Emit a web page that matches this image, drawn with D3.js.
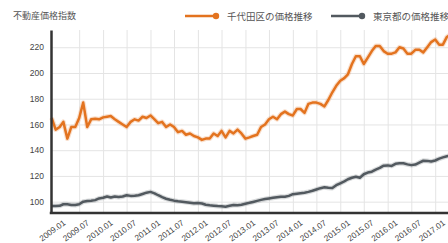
<!DOCTYPE html>
<html>
<head>
<meta charset="utf-8">
<script src="https://cdn.jsdelivr.net/npm/d3@7"></script>
<style>
  body { margin: 0; background: #fff; }
  svg { display: block; }
  text { font-family: "Liberation Sans", Arial, sans-serif; }
  .jp { font-family: "Noto Sans CJK JP", sans-serif; }
</style>
</head>
<body>
<div id="chart"></div>
<script>
// Data (monthly, starting 2008.12)
var firstMonth = "2008.12";
var chiyoda = [165, 156, 158, 162, 149, 158, 158, 165, 177, 158, 164, 164.5, 164, 165.5, 166, 166.5,
  164, 162, 160, 158, 162, 164, 163, 166, 165, 167, 164, 161, 162, 158, 160, 158, 154, 155, 152, 153,
  151, 150, 148, 149, 149, 153, 151, 155, 150, 155, 153, 156, 153, 149, 150, 151, 152, 158, 160, 164,
  166, 164, 168, 170, 168, 167, 172, 172, 169, 176, 177, 177, 176, 174, 179, 185, 190, 194, 196, 199,
  207, 213, 213, 207, 212, 217, 221, 221, 217, 215, 215, 216, 220, 219, 215, 215, 218, 218, 216, 220,
  224, 226, 222, 222, 228, 230];
var tokyo = [96.7, 96.7, 96.8, 98, 98, 97.5, 97.4, 98, 100, 100.5, 100.8, 101.2, 102.5, 103, 104, 103.3,
  104, 103.6, 104, 105, 104.5, 104.6, 105, 106, 107, 107.6, 106.5, 105, 103.5, 102.3, 101.5, 100.8,
  100.3, 100, 99.6, 99.2, 98.7, 99, 98.6, 97.6, 97.2, 96.9, 96.6, 96.4, 96.1, 96.8, 97.4, 97.3, 97.6,
  98.4, 99.1, 99.8, 100.6, 101.4, 102, 102.5, 103, 103.5, 103.9, 103.8, 104.5, 105.8, 106.2, 106.6,
  107, 107.6, 108.5, 109.5, 110.5, 111.2, 110.8, 110.6, 112.8, 114.3, 115.8, 117.4, 118.6, 119.4,
  118.6, 121.3, 122.6, 123.3, 124.9, 126.3, 128, 128.2, 127.8, 129.4, 129.8, 129.8, 129, 128.4, 128.8,
  130.4, 131.8, 131.7, 131.2, 132, 133.4, 134.4, 135.3, 136];
var xTickLabels = ["2009.01", "2009.07", "2010.01", "2010.07", "2011.01", "2011.07", "2012.01",
  "2012.07", "2013.01", "2013.07", "2014.01", "2014.07", "2015.01", "2015.07", "2016.01",
  "2016.07", "2017.01"];
var yTicks = [100, 120, 140, 160, 180, 200, 220];
var seriesNames = ["千代田区の価格推移", "東京都の価格推移"];
var yTitle = "不動産価格指数";

var colors = ["#e3731f", "#52595f"];

// Chart area
var svgWidth = 448;
var svgHeight = 243;
var margin = { top: 30, left: 51, bottom: 30 };
var plotBottom = svgHeight - margin.bottom; // 213

var svg = d3.select("#chart")
  .append("svg")
  .attr("width", svgWidth)
  .attr("height", svgHeight);

var parseMonth = d3.timeParse("%Y.%m");
var start = parseMonth(firstMonth);
var dates = chiyoda.map((d, i) => d3.timeMonth.offset(start, i));

var xScale = d3.scaleTime()
  .domain([start, d3.timeMonth.offset(start, 101)])
  .range([margin.left + 0.65, margin.left + 0.65 + 101 * 3.952]);

var yScale = d3.scaleLinear()
  .domain([91.2, 233.4])
  .range([plotBottom, margin.top]);

// Gridlines
svg.append("g")
  .attr("class", "ygrid")
  .attr("transform", `translate(${margin.left}, 0)`)
  .call(d3.axisLeft(yScale).tickValues(yTicks).tickSize(-(svgWidth - margin.left)).tickFormat(""))
  .call(g => g.select(".domain").remove())
  .selectAll("line").attr("stroke", "#e4e4e4");

var tickDates = xTickLabels.map(parseMonth);

svg.append("g")
  .attr("class", "xgrid")
  .attr("transform", `translate(0, ${plotBottom})`)
  .call(d3.axisBottom(xScale).tickValues(tickDates.slice(1)).tickSize(-(plotBottom - margin.top)).tickFormat(""))
  .call(g => g.select(".domain").remove())
  .selectAll("line").attr("stroke", "#e4e4e4");

// Lines
var line = d3.line()
  .x((d, i) => xScale(dates[i]))
  .y(d => yScale(d));

[tokyo, chiyoda].forEach(function (series, k) {
  var color = k === 0 ? colors[1] : colors[0];
  svg.append("path")
    .datum(series)
    .attr("fill", "none")
    .attr("stroke", color)
    .attr("stroke-opacity", 0.22)
    .attr("stroke-width", 4.8)
    .attr("stroke-linejoin", "round")
    .attr("d", line);
  svg.append("path")
    .datum(series)
    .attr("fill", "none")
    .attr("stroke", color)
    .attr("stroke-width", 2.5)
    .attr("stroke-linejoin", "round")
    .attr("d", line);
});

// Axes
svg.append("g")
  .attr("transform", `translate(${margin.left}, 0)`)
  .call(d3.axisLeft(yScale).tickValues(yTicks).tickSize(0).tickPadding(7).tickSizeOuter(0))
  .call(g => g.select(".domain").attr("stroke", "#333").attr("stroke-width", 2.5))
  .selectAll("text")
  .attr("fill", "#444")
  .attr("font-size", "8.5px");

var xAxis = svg.append("g")
  .attr("transform", `translate(0, ${plotBottom})`)
  .call(d3.axisBottom(xScale).tickValues(tickDates).tickSize(0).tickSizeOuter(0)
    .tickFormat((d, i) => xTickLabels[i]));

xAxis.select(".domain")
  .attr("d", `M${margin.left - 1.25},0H${svgWidth}`)
  .attr("stroke", "#333")
  .attr("stroke-width", 2.5);

xAxis.selectAll("text")
  .attr("fill", "#444")
  .attr("font-size", "8.3px")
  .attr("text-anchor", "end")
  .attr("dy", null)
  .attr("y", 0)
  .attr("transform", "translate(10, 11) rotate(-36)");

// Title
svg.append("text")
  .attr("class", "jp")
  .attr("x", 13)
  .attr("y", 19)
  .attr("font-size", "9px")
  .attr("fill", "#555")
  .text(yTitle);

// Legend
var legendX = [185, 331];
seriesNames.forEach(function (name, k) {
  var g = svg.append("g").attr("transform", `translate(${legendX[k]}, 16)`);
  g.append("line")
    .attr("x1", 0).attr("x2", 30)
    .attr("stroke", colors[k])
    .attr("stroke-width", 2.5);
  g.append("circle")
    .attr("cx", 31).attr("r", 3.2)
    .attr("fill", colors[k]);
  g.append("text")
    .attr("class", "jp")
    .attr("x", 42)
    .attr("y", 3.5)
    .attr("font-size", "9.5px")
    .attr("fill", "#555")
    .text(name);
});
</script>
</body>
</html>
